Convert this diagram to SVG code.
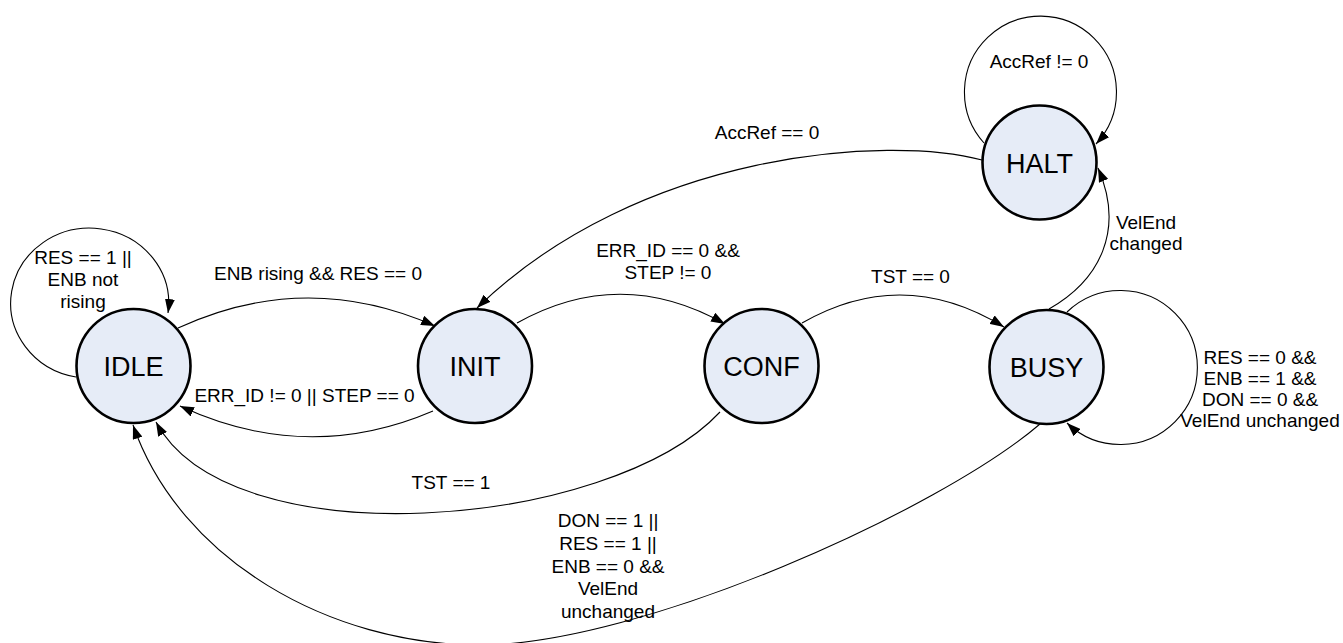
<svg xmlns="http://www.w3.org/2000/svg" width="1343" height="643" viewBox="0 0 1343 643">
<style>
.state{fill:#e6ecf7;stroke:#000;stroke-width:2.6}
.sl{font-family:"Liberation Sans",Arial,sans-serif;font-size:27px;fill:#000;text-anchor:middle}
.lb{font-family:"Liberation Sans",Arial,sans-serif;font-size:19px;fill:#000;text-anchor:middle}
.edge{fill:none;stroke:#000;stroke-width:1.1;marker-end:url(#arr)}
</style>
<defs>
<marker id="arr" markerUnits="userSpaceOnUse" markerWidth="15" markerHeight="10" refX="14" refY="5" orient="auto">
<path d="M0,0 L14,5 L0,10 z" fill="#000"/>
</marker>
</defs>
<rect width="1343" height="643" fill="#fff"/>
<g id="connectors">
<path class="edge" d="M76,377 A79,75 0 1 1 168,313"/>
<path class="edge" d="M178,328 Q306,269 435,326"/>
<path class="edge" d="M433,411 Q307,465 180,406"/>
<path class="edge" d="M517,323 Q621,265 725,324"/>
<path class="edge" d="M802,323 Q903,265 1004,327"/>
<path class="edge" d="M720,412 C610,530 230,560 156,422"/>
<path class="edge" d="M1040,424 C940,510 640,645 480,645 C330,645 180,560 133,425"/>
<path class="edge" d="M982,160 C890,135 640,150 477,308"/>
<path class="edge" d="M1049,309 C1100,280 1125,230 1098,168"/>
<path class="edge" d="M984,143 A76,76 0 1 1 1096,144"/>
<path class="edge" d="M1067,312 A77,77 0 1 1 1067,423"/>
</g>
<g id="labels">
<text class="lb" x="83" y="263.5">RES == 1 ||</text>
<text class="lb" x="83" y="285.5">ENB not</text>
<text class="lb" x="83" y="307.5">rising</text>
<text class="lb" x="318" y="280">ENB rising &amp;&amp; RES == 0</text>
<text class="lb" x="304.5" y="401.5">ERR_ID != 0 || STEP == 0</text>
<text class="lb" x="668" y="256.5">ERR_ID == 0 &amp;&amp;</text>
<text class="lb" x="668" y="279">STEP != 0</text>
<text class="lb" x="910.5" y="282.5">TST == 0</text>
<text class="lb" x="1039" y="68">AccRef != 0</text>
<text class="lb" x="767" y="139">AccRef == 0</text>
<text class="lb" x="1146" y="228.5">VelEnd</text>
<text class="lb" x="1146" y="250">changed</text>
<text class="lb" x="1260" y="363.5">RES == 0 &amp;&amp;</text>
<text class="lb" x="1260" y="384.5">ENB == 1 &amp;&amp;</text>
<text class="lb" x="1260" y="405.5">DON == 0 &amp;&amp;</text>
<text class="lb" x="1260" y="426.5">VelEnd unchanged</text>
<text class="lb" x="451" y="489">TST == 1</text>
<text class="lb" x="608" y="526.5">DON == 1 ||</text>
<text class="lb" x="608" y="549.5">RES == 1 ||</text>
<text class="lb" x="608" y="572.5">ENB == 0 &amp;&amp;</text>
<text class="lb" x="608" y="595">VelEnd</text>
<text class="lb" x="608" y="617.5">unchanged</text>
</g>
<g id="IDLE"><circle class="state" cx="133.5" cy="366" r="57"/><text class="sl" x="133.5" y="376">IDLE</text></g>
<g id="INIT"><circle class="state" cx="475" cy="366" r="57"/><text class="sl" x="475" y="376">INIT</text></g>
<g id="CONF"><circle class="state" cx="761.5" cy="366" r="57"/><text class="sl" x="761.5" y="376">CONF</text></g>
<g id="BUSY"><circle class="state" cx="1046.5" cy="367" r="57"/><text class="sl" x="1046.5" y="377">BUSY</text></g>
<g id="HALT"><circle class="state" cx="1039.5" cy="162.5" r="57"/><text class="sl" x="1039.5" y="172.5">HALT</text></g>
</svg>
